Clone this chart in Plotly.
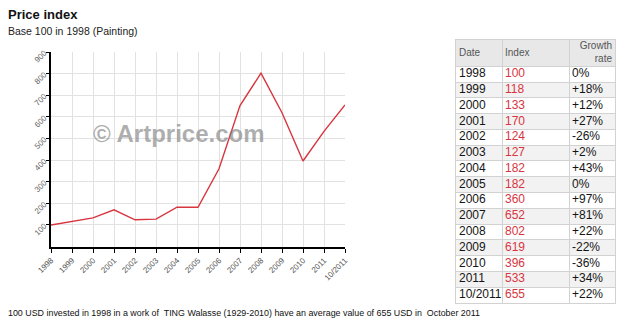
import plotly.graph_objects as go

# Price index, base 100 in 1998
dates = ["1998", "1999", "2000", "2001", "2002", "2003", "2004", "2005",
         "2006", "2007", "2008", "2009", "2010", "2011", "10/2011"]
index_values = [100, 118, 133, 170, 124, 127, 182, 182, 360, 652, 802, 619, 396, 533, 655]
growth = ["0%", "+18%", "+12%", "+27%", "-26%", "+2%", "+43%", "0%",
          "+97%", "+81%", "+22%", "-22%", "-36%", "+34%", "+22%"]
y_ticks = [100, 200, 300, 400, 500, 600, 700, 800, 900]
headers = ["Date", "Index", "Growth<br>rate"]

W, H = 640, 333
FONT = "Liberation Sans, Arial, sans-serif"
RED = "#d8353f"
GRID = "#e2e2e2"
BORDER = "#d2d2d2"

# table geometry (pixel units on the table's x axis, row units on its y axis)
col_edges = [456, 502, 569, 615]
header_rows = 28 / 16.8          # header is taller than a body row
n = len(dates)
rows = list(range(n))
row_mid = [r + 0.5 for r in rows]

fig = go.Figure()

# price index line
fig.add_trace(go.Scatter(
    x=dates, y=index_values, mode="lines",
    line=dict(color=RED, width=1.4),
    hoverinfo="x+y", showlegend=False, xaxis="x", yaxis="y",
))

# table body text, one trace per column
pad = 3
col_font = [("#151515", dates), (RED, [str(v) for v in index_values]), ("#151515", growth)]
for (color, texts), left in zip(col_font, col_edges[:-1]):
    fig.add_trace(go.Scatter(
        x=[left + pad] * n, y=row_mid, text=texts, mode="text",
        textposition="middle right",
        textfont=dict(family=FONT, size=12, color=color),
        hoverinfo="skip", showlegend=False, xaxis="x2", yaxis="y2",
    ))

# table header text
fig.add_trace(go.Scatter(
    x=[col_edges[0] + pad, col_edges[1] + pad, col_edges[3] - pad],
    y=[-header_rows / 2] * 3, text=headers, mode="text",
    textposition=["middle right", "middle right", "middle left"],
    textfont=dict(family=FONT, size=10, color="#555555"),
    hoverinfo="skip", showlegend=False, xaxis="x2", yaxis="y2",
))

# header / alternating row fills
shapes = [dict(type="rect", xref="x2", yref="y2", layer="below",
               x0=col_edges[0], x1=col_edges[-1], y0=-header_rows, y1=0,
               fillcolor="#e8e8e8", line=dict(width=0))]
for r in rows:
    if r % 2 == 1:
        shapes.append(dict(type="rect", xref="x2", yref="y2", layer="below",
                           x0=col_edges[0], x1=col_edges[-1], y0=r, y1=r + 1,
                           fillcolor="#f2f2f2", line=dict(width=0)))

fig.update_layout(
    width=W, height=H,
    template="none",
    margin=dict(l=0, r=0, t=0, b=0, autoexpand=False),
    paper_bgcolor="white", plot_bgcolor="white",
    font=dict(family=FONT, color="#333333"),
    showlegend=False,
    xaxis=dict(
        domain=[51 / W, 345 / W], anchor="y",
        type="category", range=[0, n - 1],
        showgrid=True, gridcolor=GRID, gridwidth=1,
        showline=True, linecolor="#000000", linewidth=2,
        ticks="outside", ticklen=4, tickcolor="#000000", tickwidth=1,
        tickangle=-45, tickfont=dict(size=8, color="#555555"),
        zeroline=False, fixedrange=True, automargin=False,
    ),
    yaxis=dict(
        domain=[(H - 246.6) / H, (H - 52) / H], anchor="x",
        range=[0, 900], tickvals=y_ticks,
        showgrid=True, gridcolor=GRID, gridwidth=1,
        showline=True, linecolor="#000000", linewidth=2,
        ticks="outside", ticklen=3, tickcolor="#000000",
        tickangle=-45, tickfont=dict(size=8, color="#666666"),
        zeroline=False, fixedrange=True, automargin=False,
    ),
    xaxis2=dict(
        domain=[col_edges[0] / W, col_edges[-1] / W], anchor="y2",
        range=[col_edges[0], col_edges[-1]], tickvals=col_edges,
        showgrid=True, gridcolor=BORDER, gridwidth=1,
        showline=True, mirror=True, linecolor=BORDER, linewidth=1,
        showticklabels=False, ticks="", zeroline=False,
        fixedrange=True, automargin=False,
    ),
    yaxis2=dict(
        domain=[(H - 303) / H, (H - 40) / H], anchor="x2",
        range=[n, -header_rows], tickvals=[-header_rows] + rows + [n],
        showgrid=True, gridcolor=BORDER, gridwidth=1,
        showline=True, mirror=True, linecolor=BORDER, linewidth=1,
        showticklabels=False, ticks="", zeroline=False,
        fixedrange=True, automargin=False,
    ),
    shapes=shapes,
    annotations=[
        dict(text="<b>Price index</b>", xref="paper", yref="paper",
             x=6 / W, y=1 - 14 / H, xanchor="left", yanchor="middle",
             showarrow=False, font=dict(size=13, color="#111111")),
        dict(text="Base 100 in 1998 (Painting)", xref="paper", yref="paper",
             x=6 / W, y=1 - 31 / H, xanchor="left", yanchor="middle",
             showarrow=False, font=dict(size=10.5, color="#222222")),
        dict(text="<b>© Artprice.com</b>", xref="paper", yref="paper",
             x=179 / W, y=1 - 133 / H, xanchor="center", yanchor="middle",
             showarrow=False, font=dict(size=24, color="rgba(120,120,120,0.6)")),
        dict(text="100 USD invested in 1998 in a work of  TING Walasse (1929-2010) "
                  "have an average value of 655 USD in  October 2011",
             xref="paper", yref="paper",
             x=6 / W, y=1 - 313 / H, xanchor="left", yanchor="middle",
             showarrow=False, font=dict(size=8.9, color="#111111")),
    ],
)

fig.write_html("out.html")
